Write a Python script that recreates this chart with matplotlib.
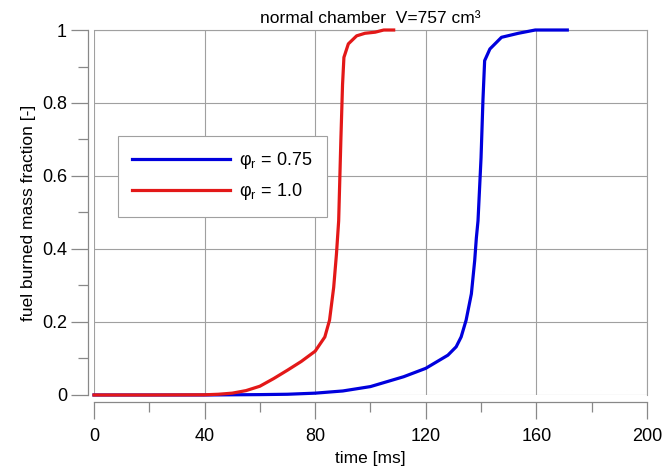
import matplotlib
matplotlib.use("Agg")
import matplotlib.pyplot as plt
from matplotlib.ticker import MultipleLocator, FormatStrFormatter

plt.rcParams['font.family'] = ['Liberation Sans', 'DejaVu Sans']
plt.rcParams['mathtext.fontset'] = 'custom'
plt.rcParams['mathtext.rm'] = 'Liberation Sans'
plt.rcParams['mathtext.it'] = 'Liberation Sans'

# %% data
t_r1 = [0, 20, 40, 45, 50, 55, 60, 65, 70, 75, 80, 83.5, 85.2, 86.7, 87.7,
        88.5, 89.3, 89.9, 90.4, 92, 95, 98, 101.7, 104.8, 108.4]
f_r1 = [0, 0, 0.0005, 0.002, 0.005, 0.012, 0.024, 0.045, 0.068, 0.092, 0.12,
        0.159, 0.205, 0.295, 0.386, 0.477, 0.7, 0.85, 0.925, 0.962, 0.984,
        0.991, 0.994, 1.0, 1.0]

t_r075 = [0, 40, 50, 60, 70, 80, 90, 100, 112, 120, 128, 131, 132.8, 134.6,
          136.5, 137.7, 138.3, 138.9, 140, 140.7, 141.3, 143.2, 147.4, 153.5,
          159.6, 171.2]
f_r075 = [0, 0, 0.0005, 0.001, 0.002, 0.005, 0.011, 0.023, 0.05, 0.073, 0.109,
          0.132, 0.159, 0.205, 0.277, 0.368, 0.43, 0.477, 0.65, 0.81, 0.916,
          0.948, 0.98, 0.991, 1.0, 1.0]

labels = ['\u03c6$_\\mathregular{r}$ = 0.75', '\u03c6$_\\mathregular{r}$ = 1.0']

# %% plot
fig = plt.figure(figsize=(6.69, 4.71), dpi=100)
ax = fig.add_axes([0.1405, 0.1614, 0.8265, 0.7749])

ax.plot(t_r075, f_r075, color='#0000dd', lw=2.3, label=labels[0], clip_on=False, zorder=3)
ax.plot(t_r1, f_r1, color='#e31818', lw=2.3, label=labels[1], clip_on=False, zorder=3)

ax.set_xlim(0, 200)
ax.set_ylim(0, 1)
ax.xaxis.set_major_locator(MultipleLocator(40))
ax.xaxis.set_minor_locator(MultipleLocator(20))
ax.yaxis.set_major_locator(MultipleLocator(0.2))
ax.yaxis.set_minor_locator(MultipleLocator(0.1))
ax.yaxis.set_major_formatter(FormatStrFormatter('%g'))

ax.grid(True, which='major', color='#a0a0a0', lw=0.8)
for s in ['top', 'right']:
    ax.spines[s].set_color('#a0a0a0')
    ax.spines[s].set_linewidth(0.8)
ax.spines['left'].set_position(('outward', 4.5))
ax.spines['bottom'].set_position(('outward', 5))
for s in ['left', 'bottom']:
    ax.spines[s].set_color('#888888')
    ax.spines[s].set_linewidth(0.9)

ax.tick_params(which='major', length=12, width=0.9, color='#888888',
               labelsize=13, pad=3)
ax.tick_params(axis='x', which='major', pad=7)
ax.tick_params(which='minor', length=7, width=0.9, color='#888888')

ax.set_xlabel('time [ms]', fontsize=12.5, labelpad=4)
ax.set_ylabel('fuel burned mass fraction [-]', fontsize=12.5, labelpad=4)
ax.set_title('normal chamber  V=757 cm\u00b3', fontsize=12.5, pad=5)

leg = ax.legend(loc='upper left', bbox_to_anchor=(0.0434, 0.7096), fontsize=13,
                handlelength=5.4, handletextpad=0.5, fancybox=False,
                edgecolor='#a0a0a0', framealpha=1, borderpad=0.8,
                labelspacing=0.55, borderaxespad=0)
leg.get_frame().set_linewidth(0.8)

fig.savefig('out.png', dpi=100)
